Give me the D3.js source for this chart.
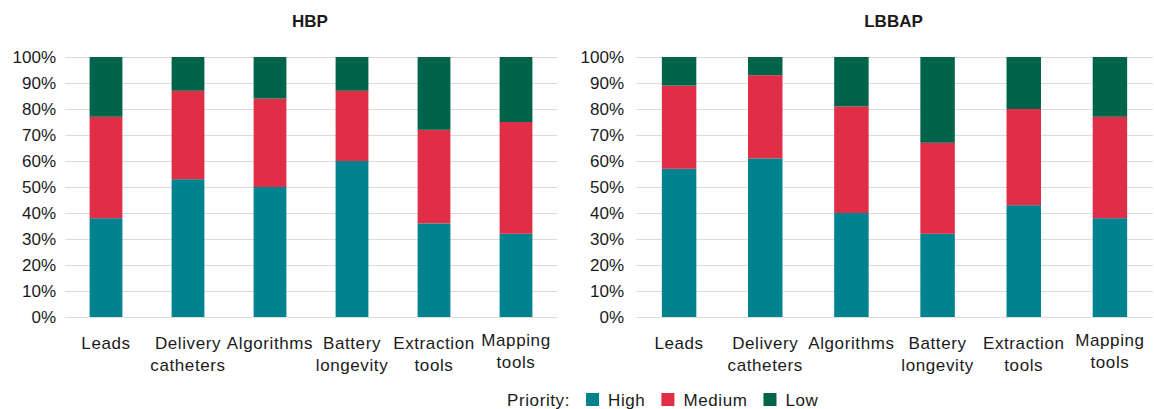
<!DOCTYPE html>
<html>
<head>
<meta charset="utf-8">
<script src="https://cdn.jsdelivr.net/npm/d3@7"></script>
<style>
  body { margin: 0; background: #fff; }
  text { font-family: "Liberation Sans", Arial, sans-serif; }
</style>
</head>
<body>
<div id="chart"></div>
<script>
var categories = [['Leads'], ['Delivery', 'catheters'], ['Algorithms'], ['Battery', 'longevity'], ['Extraction', 'tools'], ['Mapping', 'tools']];
var seriesNames = ['High', 'Medium', 'Low'];
var colors = ['#00838f', '#e02e47', '#00644a'];
var yTicks = [0, 0.1, 0.2, 0.3, 0.4, 0.5, 0.6, 0.7, 0.8, 0.9, 1];

// share of respondents per category, in %
var hbpHigh   = [38, 53, 50, 60, 36, 32];
var hbpMedium = [39, 34, 34, 27, 36, 43];
var hbpLow    = [23, 13, 16, 13, 28, 25];

var lbbapHigh   = [57, 61, 40, 32, 43, 38];
var lbbapMedium = [32, 32, 41, 35, 37, 39];
var lbbapLow    = [11, 7, 19, 33, 20, 23];

var W = 1154, H = 409;
var svg = d3.select('#chart').append('svg').attr('width', W).attr('height', H);

function panel(title, high, med, low, x0, x1, labelX) {
  var top = 57, bottom = 317;
  var keys = categories.map(function(c) { return c.join(' '); });
  var rows = keys.map(function(k, i) { return { key: k, High: high[i] / 100, Medium: med[i] / 100, Low: low[i] / 100 }; });
  var stack = d3.stack().keys(seriesNames)(rows);

  var x = d3.scaleBand().domain(keys).range([x0, x1]).paddingInner(0.6).paddingOuter(0.3);
  var y = d3.scaleLinear().domain([0, 1]).range([bottom, top]);
  var g = svg.append('g');

  // grid
  g.append('g').selectAll('line').data(yTicks).join('line')
    .attr('x1', x0).attr('x2', x1)
    .attr('y1', function(d) { return Math.round(y(d)) + 0.5; }).attr('y2', function(d) { return Math.round(y(d)) + 0.5; })
    .attr('stroke', '#dcdcdc').attr('stroke-width', 1);

  // y axis labels
  g.append('g').attr('transform', 'translate(' + labelX + ',0)')
    .call(d3.axisLeft(y).tickValues(yTicks).tickSize(0).tickPadding(0).tickFormat(d3.format('.0%')))
    .call(function(a) { a.select('.domain').remove(); })
    .call(function(a) { a.selectAll('.tick text').attr('fill', '#1a1a1a').attr('font-size', '17px').attr('font-family', '"Liberation Sans", Arial, sans-serif'); });

  // bars
  stack.forEach(function(s, si) {
    g.append('g').selectAll('rect').data(s).join('rect')
      .attr('x', function(d) { return x(d.data.key); })
      .attr('width', x.bandwidth())
      .attr('y', function(d) { return y(d[1]); })
      .attr('height', function(d) { return y(d[0]) - y(d[1]); })
      .attr('fill', colors[si]);
  });

  // x labels
  categories.forEach(function(c, i) {
    var cx = x(keys[i]) + x.bandwidth() / 2;
    var shift = i === categories.length - 1 ? -3 : 0;
    var t = g.append('text').attr('text-anchor', 'middle').attr('font-size', '17px')
      .attr('letter-spacing', '0.6px').attr('fill', '#1a1a1a');
    c.forEach(function(line, li) {
      t.append('tspan').attr('x', cx).attr('y', 349 + shift + li * 21.5).text(line);
    });
  });

  // title
  g.append('text').attr('x', (x0 + x1) / 2 - 1).attr('y', 27)
    .attr('text-anchor', 'middle').attr('font-size', '17px').attr('font-weight', 'bold').attr('fill', '#1a1a1a')
    .text(title);
}

panel('HBP', hbpHigh, hbpMedium, hbpLow, 65, 557, 56);
panel('LBBAP', lbbapHigh, lbbapMedium, lbbapLow, 636, 1153, 624);

// legend
var lg = svg.append('g').attr('font-size', '17px').attr('letter-spacing', '0.6px');
var lx = 507, ly = 406;
var lab = lg.append('text').attr('x', lx).attr('y', ly).attr('fill', '#1a1a1a').text('Priority:');
lx += lab.node().getComputedTextLength() + 16;
seriesNames.forEach(function(name, i) {
  lg.append('rect').attr('x', lx).attr('y', ly - 13).attr('width', 13).attr('height', 13).attr('fill', colors[i]);
  lx += 22;
  var t = lg.append('text').attr('x', lx).attr('y', ly).attr('fill', '#1a1a1a').text(name);
  lx += t.node().getComputedTextLength() + 16;
});
</script>
</body>
</html>
